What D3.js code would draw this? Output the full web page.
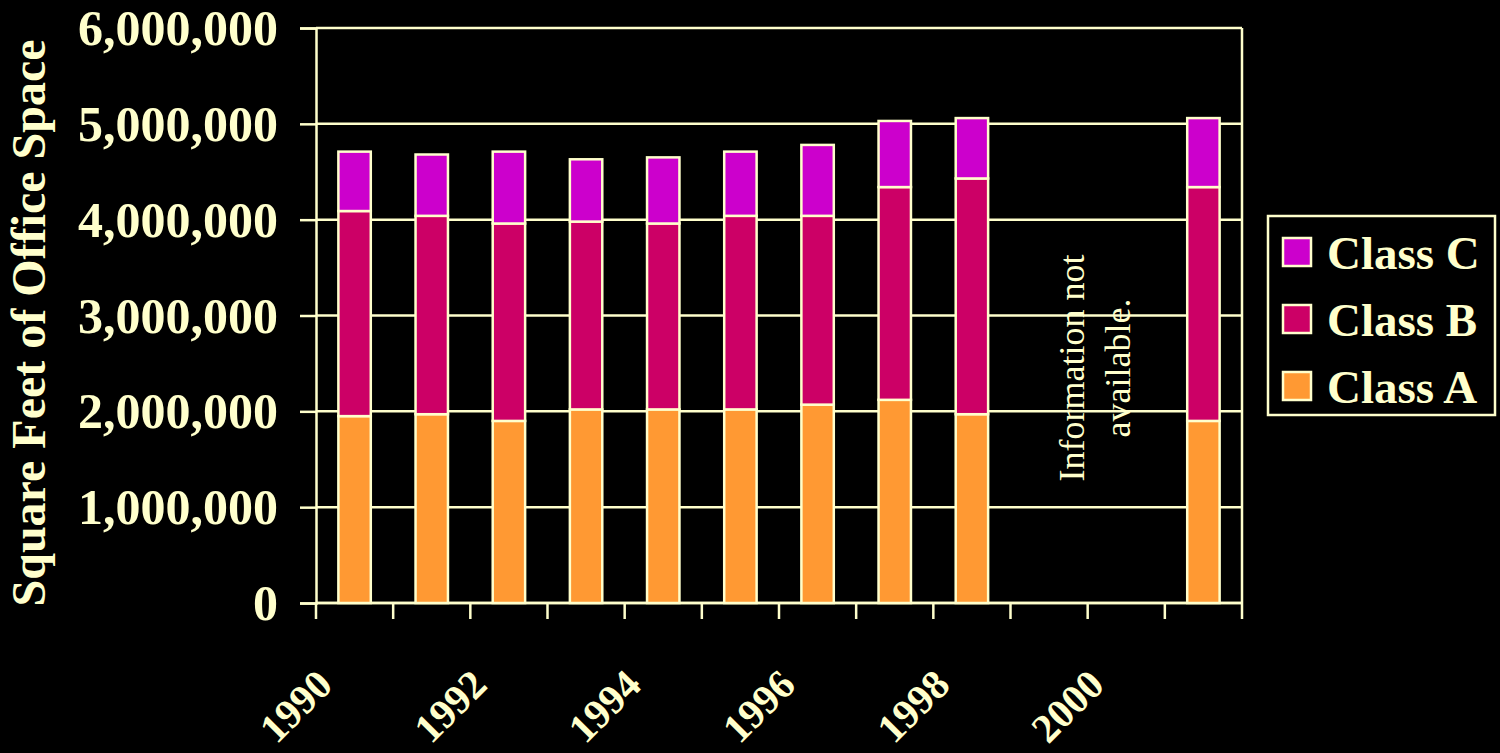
<!DOCTYPE html>
<html>
<head>
<meta charset="utf-8">
<script src="https://cdn.jsdelivr.net/npm/d3@7"></script>
<style>
  html, body { margin: 0; padding: 0; background: #000; }
  svg { display: block; }
</style>
</head>
<body>
<svg id="chart" width="1500" height="753"></svg>
<script>
// Office space inventory by class, 1990-2001 (square feet)
const years = ["1990","1991","1992","1993","1994","1995","1996","1997","1998","1999","2000","2001"];
const classA = [1950000, 1970000, 1900000, 2020000, 2020000, 2020000, 2070000, 2120000, 1970000, null, null, 1900000];
const classB = [2140000, 2070000, 2060000, 1960000, 1940000, 2020000, 1970000, 2220000, 2460000, null, null, 2440000];
const classC = [620000, 640000, 750000, 650000, 690000, 670000, 740000, 690000, 630000, null, null, 720000];
const yTicks = [0, 1000000, 2000000, 3000000, 4000000, 5000000, 6000000];
const labelYears = ["1990","1992","1994","1996","1998","2000"];
const seriesNames = ["Class A", "Class B", "Class C"];
const seriesColors = ["#FF9933", "#CC0066", "#CC00CC"];
const missingNote = ["Information not", "available."];

const ink = "#FFFFCC";
const serif = "'Liberation Serif', 'Times New Roman', serif";

const svg = d3.select("#chart");
const plot = { left: 316, right: 1242, top: 28, bottom: 603 };

const x = d3.scaleBand()
  .domain(years)
  .range([plot.left, plot.right])
  .paddingInner(0.58)
  .paddingOuter(0.29);

const y = d3.scaleLinear()
  .domain([0, 6000000])
  .range([plot.bottom, plot.top]);

// Gridlines
svg.append("g")
  .selectAll("line")
  .data(yTicks)
  .join("line")
  .attr("x1", plot.left).attr("x2", plot.right)
  .attr("y1", d => y(d)).attr("y2", d => y(d))
  .attr("stroke", ink).attr("stroke-width", 2.5);

// Plot border (right side)
svg.append("line")
  .attr("x1", plot.right).attr("x2", plot.right)
  .attr("y1", plot.top).attr("y2", plot.bottom)
  .attr("stroke", ink).attr("stroke-width", 2.5);

// Y axis
const yAxis = svg.append("g")
  .attr("transform", `translate(${plot.left},0)`)
  .call(d3.axisLeft(y).tickValues(yTicks).tickSize(16).tickPadding(22)
    .tickFormat(d3.format(",")));
yAxis.select(".domain").attr("stroke", ink).attr("stroke-width", 2.5);
yAxis.selectAll(".tick line").attr("stroke", ink).attr("stroke-width", 2.5);
yAxis.selectAll(".tick text")
  .attr("fill", ink)
  .attr("font-family", serif)
  .attr("font-weight", "bold")
  .attr("font-size", 50)
  .attr("dy", "0.33em");

// X axis: baseline and tick marks at category boundaries
const step = x.step();
const boundaries = d3.range(years.length + 1).map(i => plot.left + i * step);
svg.append("line")
  .attr("x1", plot.left).attr("x2", plot.right)
  .attr("y1", plot.bottom).attr("y2", plot.bottom)
  .attr("stroke", ink).attr("stroke-width", 2.5);
svg.append("g")
  .selectAll("line")
  .data(boundaries)
  .join("line")
  .attr("x1", d => d).attr("x2", d => d)
  .attr("y1", plot.bottom).attr("y2", plot.bottom + 16)
  .attr("stroke", ink).attr("stroke-width", 2.5);

// X labels every other year, rotated
const xAxis = svg.append("g")
  .attr("transform", `translate(0,${plot.bottom})`)
  .call(d3.axisBottom(x).tickValues(labelYears).tickSize(0));
xAxis.select(".domain").remove();
xAxis.selectAll(".tick text")
  .attr("fill", ink)
  .attr("font-family", serif)
  .attr("font-weight", "bold")
  .attr("font-size", 41)
  .attr("text-anchor", "end")
  .attr("x", null).attr("y", null).attr("dy", null)
  .attr("transform", "translate(-20,84) rotate(-45)");

// Stacked bars
const rows = years.map((yr, i) => ({ year: yr, a: classA[i], b: classB[i], c: classC[i] }))
  .filter(r => r.a != null);
const stack = d3.stack().keys(["a", "b", "c"]);
const layers = stack(rows);

svg.append("g")
  .selectAll("g")
  .data(layers)
  .join("g")
  .attr("fill", (d, i) => seriesColors[i])
  .selectAll("rect")
  .data(d => d)
  .join("rect")
  .attr("x", d => x(d.data.year))
  .attr("width", x.bandwidth())
  .attr("y", d => y(d[1]))
  .attr("height", d => y(d[0]) - y(d[1]))
  .attr("stroke", ink)
  .attr("stroke-width", 2.5);

// Note for years without data
const noteX = (x("1999") + x("2000") + x.bandwidth()) / 2;
const note = svg.append("text")
  .attr("transform", `translate(${noteX - 4},368) rotate(-90)`)
  .attr("fill", ink)
  .attr("font-family", serif)
  .attr("font-size", 36)
  .attr("text-anchor", "middle");
note.selectAll("tspan")
  .data(missingNote)
  .join("tspan")
  .attr("x", 0)
  .attr("dy", (d, i) => i === 0 ? 0 : 46)
  .text(d => d);

// Y axis title
svg.append("text")
  .attr("transform", "translate(45,323) rotate(-90)")
  .attr("fill", ink)
  .attr("font-family", serif)
  .attr("font-weight", "bold")
  .attr("font-size", 48)
  .attr("text-anchor", "middle")
  .text("Square Feet of Office Space");

// Legend
const legend = svg.append("g");
legend.append("rect")
  .attr("x", 1268).attr("y", 216)
  .attr("width", 227).attr("height", 199)
  .attr("fill", "#000")
  .attr("stroke", ink).attr("stroke-width", 2.5);
const legendOrder = [2, 1, 0];
const items = legend.selectAll("g.item")
  .data(legendOrder)
  .join("g")
  .attr("class", "item")
  .attr("transform", (d, i) => `translate(1283,${238 + i * 67})`);
items.append("rect")
  .attr("width", 28).attr("height", 28)
  .attr("fill", d => seriesColors[d])
  .attr("stroke", ink).attr("stroke-width", 2.5);
items.append("text")
  .attr("x", 44).attr("y", 31)
  .attr("fill", ink)
  .attr("font-family", serif)
  .attr("font-weight", "bold")
  .attr("font-size", 47)
  .text(d => seriesNames[d]);
</script>
</body>
</html>
